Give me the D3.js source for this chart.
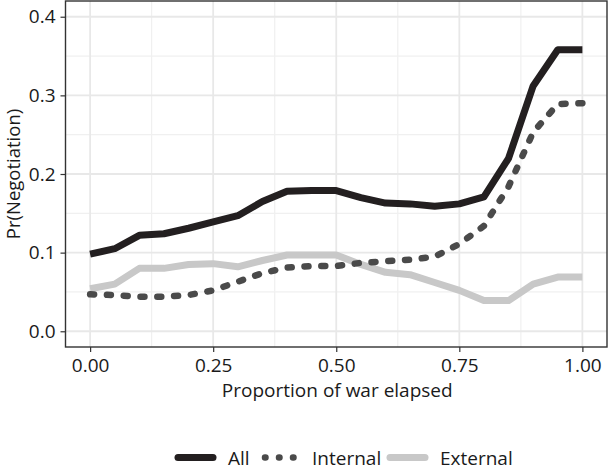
<!DOCTYPE html>
<html>
<head>
<meta charset="utf-8">
<script src="https://cdn.jsdelivr.net/npm/d3@7"></script>
<style>
  body { margin: 0; background: #fff; }
  text { font-family: "Open Sans", Lato, sans-serif; fill: #1a1a1a; }
</style>
</head>
<body>
<svg width="609" height="472"></svg>
<script>
// proportion of war elapsed
var props = [0, 0.05, 0.10, 0.15, 0.20, 0.25, 0.30, 0.35, 0.40, 0.45, 0.50,
             0.55, 0.60, 0.65, 0.70, 0.75, 0.80, 0.85, 0.90, 0.95, 1.00];
var allVals = [0.098, 0.105, 0.122, 0.124, 0.131, 0.139, 0.147, 0.165, 0.178, 0.179, 0.179,
               0.170, 0.163, 0.162, 0.159, 0.162, 0.171, 0.220, 0.312, 0.358, 0.358];
var internalVals = [0.047, 0.046, 0.044, 0.044, 0.046, 0.052, 0.063, 0.074, 0.081, 0.083, 0.083,
                    0.087, 0.089, 0.091, 0.095, 0.111, 0.134, 0.184, 0.253, 0.289, 0.290];
var externalVals = [0.054, 0.060, 0.080, 0.080, 0.085, 0.086, 0.082, 0.090, 0.097, 0.097, 0.097,
                    0.085, 0.075, 0.072, 0.062, 0.052, 0.039, 0.039, 0.060, 0.069, 0.069];
var xTicks = [0, 0.25, 0.5, 0.75, 1];
var yTicks = [0, 0.1, 0.2, 0.3, 0.4];
var seriesNames = ["All", "Internal", "External"];

var svg = d3.select("svg");
var panel = {left: 65.5, right: 607, top: 1, bottom: 347};
var fontSize = 19;

// ggplot style 5% expansion
var x = d3.scaleLinear().domain([-0.05, 1.05]).range([panel.left, panel.right]);
var y = d3.scaleLinear().domain([-0.02, 0.42]).range([panel.bottom, panel.top]);

var styles = {
  All: {color: "#231f20", width: 7, dash: null, cap: "butt"},
  Internal: {color: "#4a4a4a", width: 6.5, dash: [4, 13], cap: "round"},
  External: {color: "#c8c8c8", width: 7, dash: null, cap: "butt"}
};

var g = svg.append("g");

// minor grid
var xMinor = [0.125, 0.375, 0.625, 0.875];
var yMinor = [0.05, 0.15, 0.25, 0.35];
g.selectAll(".xminor").data(xMinor).enter().append("line")
  .attr("x1", d => x(d)).attr("x2", d => x(d))
  .attr("y1", panel.top).attr("y2", panel.bottom)
  .attr("stroke", "#f0f0f0").attr("stroke-width", 1.2);
g.selectAll(".yminor").data(yMinor).enter().append("line")
  .attr("y1", d => y(d)).attr("y2", d => y(d))
  .attr("x1", panel.left).attr("x2", panel.right)
  .attr("stroke", "#f0f0f0").attr("stroke-width", 1.2);
// major grid
g.selectAll(".xmajor").data(xTicks).enter().append("line")
  .attr("x1", d => x(d)).attr("x2", d => x(d))
  .attr("y1", panel.top).attr("y2", panel.bottom)
  .attr("stroke", "#e8e8e8").attr("stroke-width", 1.8);
g.selectAll(".ymajor").data(yTicks).enter().append("line")
  .attr("y1", d => y(d)).attr("y2", d => y(d))
  .attr("x1", panel.left).attr("x2", panel.right)
  .attr("stroke", "#e8e8e8").attr("stroke-width", 1.8);

// lines
var data = {All: allVals, Internal: internalVals, External: externalVals};
var line = d3.line().x(d => x(d[0])).y(d => y(d[1]));
["External", "Internal", "All"].forEach(function(name) {
  var s = styles[name];
  var p = g.append("path")
    .datum(props.map((v, i) => [v, data[name][i]]))
    .attr("d", line)
    .attr("fill", "none")
    .attr("stroke", s.color)
    .attr("stroke-width", s.width)
    .attr("stroke-linejoin", "round")
    .attr("stroke-linecap", s.cap);
  if (s.dash) {
    // stretch the pattern so a dash sits at both ends
    var len = p.node().getTotalLength();
    var period = s.dash[0] + s.dash[1];
    var n = Math.round((len - s.dash[0]) / period);
    var gap = (len - s.dash[0]) / n - s.dash[0];
    p.attr("stroke-dasharray", s.dash[0] + "," + gap);
  }
});

// panel border
g.append("rect")
  .attr("x", panel.left).attr("y", panel.top)
  .attr("width", panel.right - panel.left).attr("height", panel.bottom - panel.top)
  .attr("fill", "none").attr("stroke", "#333").attr("stroke-width", 1.4);

// axes
var xAxis = d3.axisBottom(x).tickValues(xTicks).tickFormat(d3.format(".2f")).tickSize(5).tickPadding(7);
var yAxis = d3.axisLeft(y).tickValues(yTicks).tickFormat(d3.format(".1f")).tickSize(5).tickPadding(5);

svg.append("g").attr("transform", "translate(0," + panel.bottom + ")").call(xAxis)
  .call(a => a.select(".domain").remove())
  .call(a => a.selectAll("line").attr("stroke", "#333").attr("stroke-width", 1.2))
  .call(a => a.selectAll("text").attr("font-size", fontSize).attr("fill", "#1a1a1a").style("font-family", "'Open Sans', sans-serif"));
svg.append("g").attr("transform", "translate(" + panel.left + ",0)").call(yAxis)
  .call(a => a.select(".domain").remove())
  .call(a => a.selectAll("line").attr("stroke", "#333").attr("stroke-width", 1.2))
  .call(a => a.selectAll("text").attr("font-size", fontSize).attr("fill", "#1a1a1a").style("font-family", "'Open Sans', sans-serif"));

// axis titles
svg.append("text")
  .attr("x", (panel.left + panel.right) / 2 + 1).attr("y", 397)
  .attr("text-anchor", "middle").attr("font-size", fontSize)
  .text("Proportion of war elapsed");
svg.append("text")
  .attr("transform", "translate(20," + ((panel.top + panel.bottom) / 2) + ") rotate(-90)")
  .attr("text-anchor", "middle").attr("font-size", 18.5)
  .text("Pr(Negotiation)");

// legend
var legendX = [178, 262, 390];
var legend = svg.append("g");
seriesNames.forEach(function(name, i) {
  var s = styles[name];
  var dotted = s.cap === "round";
  legend.append("line")
    .attr("x1", legendX[i] + (dotted ? 3 : 0)).attr("x2", legendX[i] + 35 - (dotted ? 3 : 0))
    .attr("y1", 457.5).attr("y2", 457.5)
    .attr("stroke", s.color).attr("stroke-width", s.width)
    .attr("stroke-linecap", "round")
    .attr("stroke-dasharray", dotted ? "0.5,13.5" : null);
  legend.append("text")
    .attr("x", legendX[i] + 50).attr("y", 465)
    .attr("font-size", fontSize)
    .text(name);
});
</script>
</body>
</html>
